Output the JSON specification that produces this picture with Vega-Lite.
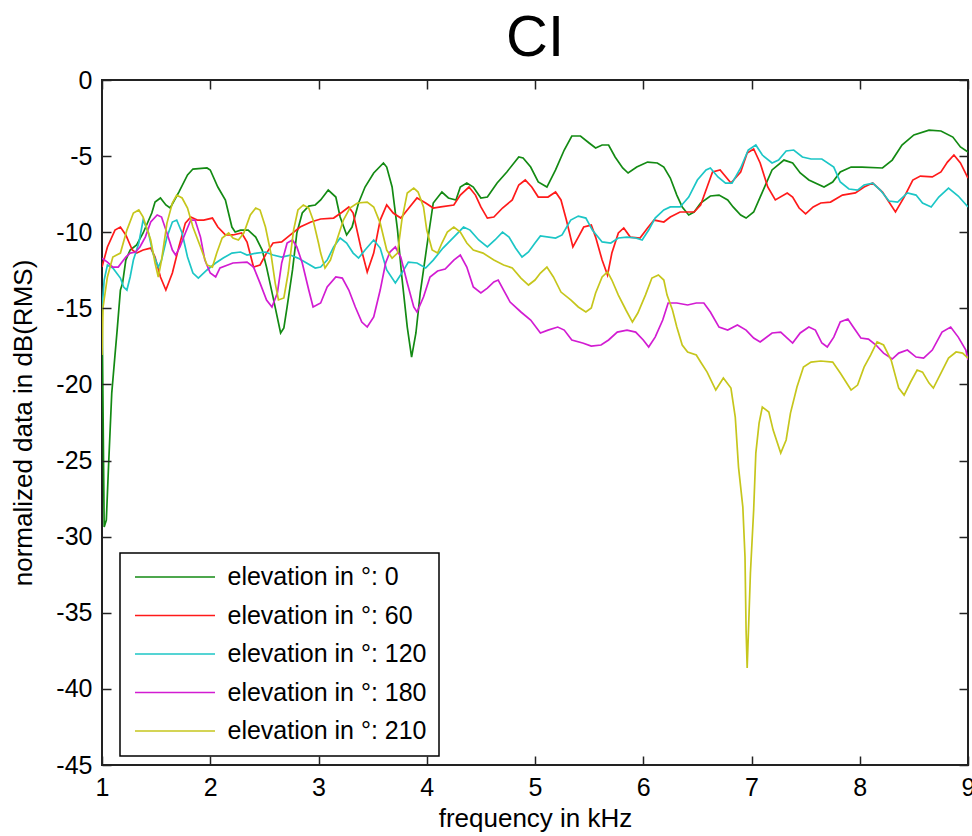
{
  "$schema": "https://vega.github.io/schema/vega-lite/v6.json",
  "width": 866,
  "height": 685,
  "autosize": {"type": "none"},
  "padding": {"left": 102, "top": 80, "right": 4, "bottom": 71},
  "background": "white",
  "title": {"text": "CI", "fontSize": 58, "font": "Liberation Sans", "fontWeight": "normal", "color": "#000", "offset": 0, "anchor": "middle"},
  "config": {
    "view": {"stroke": "#222", "strokeWidth": 2},
    "legend": {"strokeWidth": 1.5}
  },
  "datasets": {
    "curves": [
      {"e":"elevation in °: 0","f":1.00,"v":-14.45},{"e":"elevation in °: 0","f":1.02,"v":-29.37},{"e":"elevation in °: 0","f":1.04,"v":-28.91},{"e":"elevation in °: 0","f":1.06,"v":-25.43},{"e":"elevation in °: 0","f":1.09,"v":-20.57},{"e":"elevation in °: 0","f":1.12,"v":-18.07},{"e":"elevation in °: 0","f":1.14,"v":-16.43},{"e":"elevation in °: 0","f":1.17,"v":-13.80},{"e":"elevation in °: 0","f":1.19,"v":-13.34},{"e":"elevation in °: 0","f":1.22,"v":-11.83},{"e":"elevation in °: 0","f":1.26,"v":-11.17},{"e":"elevation in °: 0","f":1.32,"v":-10.84},{"e":"elevation in °: 0","f":1.38,"v":-10.05},{"e":"elevation in °: 0","f":1.46,"v":-8.74},{"e":"elevation in °: 0","f":1.49,"v":-8.02},{"e":"elevation in °: 0","f":1.54,"v":-7.75},{"e":"elevation in °: 0","f":1.59,"v":-8.21},{"e":"elevation in °: 0","f":1.63,"v":-8.41},{"e":"elevation in °: 0","f":1.71,"v":-7.36},{"e":"elevation in °: 0","f":1.79,"v":-6.24},{"e":"elevation in °: 0","f":1.84,"v":-5.85},{"e":"elevation in °: 0","f":1.97,"v":-5.78},{"e":"elevation in °: 0","f":2.00,"v":-5.91},{"e":"elevation in °: 0","f":2.07,"v":-7.03},{"e":"elevation in °: 0","f":2.14,"v":-7.88},{"e":"elevation in °: 0","f":2.20,"v":-9.66},{"e":"elevation in °: 0","f":2.23,"v":-9.99},{"e":"elevation in °: 0","f":2.28,"v":-9.86},{"e":"elevation in °: 0","f":2.35,"v":-9.86},{"e":"elevation in °: 0","f":2.42,"v":-10.32},{"e":"elevation in °: 0","f":2.48,"v":-11.17},{"e":"elevation in °: 0","f":2.52,"v":-12.29},{"e":"elevation in °: 0","f":2.58,"v":-14.26},{"e":"elevation in °: 0","f":2.65,"v":-16.62},{"e":"elevation in °: 0","f":2.68,"v":-16.29},{"e":"elevation in °: 0","f":2.71,"v":-14.91},{"e":"elevation in °: 0","f":2.76,"v":-12.48},{"e":"elevation in °: 0","f":2.80,"v":-10.05},{"e":"elevation in °: 0","f":2.85,"v":-8.74},{"e":"elevation in °: 0","f":2.91,"v":-8.28},{"e":"elevation in °: 0","f":2.97,"v":-8.21},{"e":"elevation in °: 0","f":3.02,"v":-7.88},{"e":"elevation in °: 0","f":3.09,"v":-7.23},{"e":"elevation in °: 0","f":3.16,"v":-7.69},{"e":"elevation in °: 0","f":3.20,"v":-9.00},{"e":"elevation in °: 0","f":3.26,"v":-10.18},{"e":"elevation in °: 0","f":3.31,"v":-9.66},{"e":"elevation in °: 0","f":3.37,"v":-8.08},{"e":"elevation in °: 0","f":3.43,"v":-7.03},{"e":"elevation in °: 0","f":3.51,"v":-6.11},{"e":"elevation in °: 0","f":3.60,"v":-5.45},{"e":"elevation in °: 0","f":3.63,"v":-5.72},{"e":"elevation in °: 0","f":3.68,"v":-7.03},{"e":"elevation in °: 0","f":3.73,"v":-9.86},{"e":"elevation in °: 0","f":3.77,"v":-12.94},{"e":"elevation in °: 0","f":3.82,"v":-16.23},{"e":"elevation in °: 0","f":3.86,"v":-18.20},{"e":"elevation in °: 0","f":3.90,"v":-16.62},{"e":"elevation in °: 0","f":3.94,"v":-13.99},{"e":"elevation in °: 0","f":4.00,"v":-10.97},{"e":"elevation in °: 0","f":4.06,"v":-8.08},{"e":"elevation in °: 0","f":4.14,"v":-7.36},{"e":"elevation in °: 0","f":4.20,"v":-7.75},{"e":"elevation in °: 0","f":4.27,"v":-7.88},{"e":"elevation in °: 0","f":4.31,"v":-7.03},{"e":"elevation in °: 0","f":4.37,"v":-6.77},{"e":"elevation in °: 0","f":4.43,"v":-7.03},{"e":"elevation in °: 0","f":4.50,"v":-7.75},{"e":"elevation in °: 0","f":4.56,"v":-7.69},{"e":"elevation in °: 0","f":4.65,"v":-6.77},{"e":"elevation in °: 0","f":4.74,"v":-6.04},{"e":"elevation in °: 0","f":4.85,"v":-5.06},{"e":"elevation in °: 0","f":4.89,"v":-5.12},{"e":"elevation in °: 0","f":4.96,"v":-5.72},{"e":"elevation in °: 0","f":5.03,"v":-6.70},{"e":"elevation in °: 0","f":5.11,"v":-7.03},{"e":"elevation in °: 0","f":5.19,"v":-5.91},{"e":"elevation in °: 0","f":5.27,"v":-4.60},{"e":"elevation in °: 0","f":5.34,"v":-3.68},{"e":"elevation in °: 0","f":5.42,"v":-3.68},{"e":"elevation in °: 0","f":5.50,"v":-4.14},{"e":"elevation in °: 0","f":5.56,"v":-4.47},{"e":"elevation in °: 0","f":5.62,"v":-4.27},{"e":"elevation in °: 0","f":5.68,"v":-4.27},{"e":"elevation in °: 0","f":5.74,"v":-5.06},{"e":"elevation in °: 0","f":5.81,"v":-5.78},{"e":"elevation in °: 0","f":5.86,"v":-6.11},{"e":"elevation in °: 0","f":5.94,"v":-5.72},{"e":"elevation in °: 0","f":6.04,"v":-5.39},{"e":"elevation in °: 0","f":6.13,"v":-5.45},{"e":"elevation in °: 0","f":6.19,"v":-5.72},{"e":"elevation in °: 0","f":6.25,"v":-6.44},{"e":"elevation in °: 0","f":6.31,"v":-7.56},{"e":"elevation in °: 0","f":6.36,"v":-8.34},{"e":"elevation in °: 0","f":6.42,"v":-8.87},{"e":"elevation in °: 0","f":6.47,"v":-8.67},{"e":"elevation in °: 0","f":6.53,"v":-8.08},{"e":"elevation in °: 0","f":6.62,"v":-7.62},{"e":"elevation in °: 0","f":6.70,"v":-7.56},{"e":"elevation in °: 0","f":6.78,"v":-7.88},{"e":"elevation in °: 0","f":6.83,"v":-8.34},{"e":"elevation in °: 0","f":6.90,"v":-8.87},{"e":"elevation in °: 0","f":6.95,"v":-9.07},{"e":"elevation in °: 0","f":7.02,"v":-8.67},{"e":"elevation in °: 0","f":7.08,"v":-7.69},{"e":"elevation in °: 0","f":7.19,"v":-5.91},{"e":"elevation in °: 0","f":7.30,"v":-5.26},{"e":"elevation in °: 0","f":7.38,"v":-5.45},{"e":"elevation in °: 0","f":7.45,"v":-6.11},{"e":"elevation in °: 0","f":7.53,"v":-6.57},{"e":"elevation in °: 0","f":7.67,"v":-7.03},{"e":"elevation in °: 0","f":7.75,"v":-6.70},{"e":"elevation in °: 0","f":7.82,"v":-6.04},{"e":"elevation in °: 0","f":7.92,"v":-5.72},{"e":"elevation in °: 0","f":8.02,"v":-5.72},{"e":"elevation in °: 0","f":8.21,"v":-5.78},{"e":"elevation in °: 0","f":8.30,"v":-5.26},{"e":"elevation in °: 0","f":8.39,"v":-4.27},{"e":"elevation in °: 0","f":8.50,"v":-3.61},{"e":"elevation in °: 0","f":8.64,"v":-3.29},{"e":"elevation in °: 0","f":8.75,"v":-3.35},{"e":"elevation in °: 0","f":8.86,"v":-3.75},{"e":"elevation in °: 0","f":8.93,"v":-4.40},{"e":"elevation in °: 0","f":9.00,"v":-4.73},
      {"e":"elevation in °: 60","f":1.00,"v":-12.29},{"e":"elevation in °: 60","f":1.05,"v":-10.97},{"e":"elevation in °: 60","f":1.12,"v":-9.86},{"e":"elevation in °: 60","f":1.17,"v":-9.66},{"e":"elevation in °: 60","f":1.22,"v":-10.18},{"e":"elevation in °: 60","f":1.28,"v":-11.17},{"e":"elevation in °: 60","f":1.32,"v":-11.37},{"e":"elevation in °: 60","f":1.38,"v":-11.17},{"e":"elevation in °: 60","f":1.45,"v":-11.04},{"e":"elevation in °: 60","f":1.49,"v":-11.63},{"e":"elevation in °: 60","f":1.54,"v":-12.94},{"e":"elevation in °: 60","f":1.59,"v":-13.80},{"e":"elevation in °: 60","f":1.65,"v":-12.68},{"e":"elevation in °: 60","f":1.71,"v":-10.97},{"e":"elevation in °: 60","f":1.77,"v":-9.40},{"e":"elevation in °: 60","f":1.82,"v":-9.00},{"e":"elevation in °: 60","f":1.88,"v":-9.20},{"e":"elevation in °: 60","f":1.94,"v":-9.20},{"e":"elevation in °: 60","f":2.02,"v":-9.07},{"e":"elevation in °: 60","f":2.07,"v":-9.66},{"e":"elevation in °: 60","f":2.14,"v":-10.18},{"e":"elevation in °: 60","f":2.21,"v":-10.18},{"e":"elevation in °: 60","f":2.29,"v":-10.05},{"e":"elevation in °: 60","f":2.34,"v":-10.64},{"e":"elevation in °: 60","f":2.40,"v":-12.29},{"e":"elevation in °: 60","f":2.46,"v":-12.15},{"e":"elevation in °: 60","f":2.52,"v":-11.37},{"e":"elevation in °: 60","f":2.58,"v":-10.71},{"e":"elevation in °: 60","f":2.66,"v":-10.64},{"e":"elevation in °: 60","f":2.74,"v":-10.18},{"e":"elevation in °: 60","f":2.83,"v":-9.66},{"e":"elevation in °: 60","f":2.93,"v":-9.33},{"e":"elevation in °: 60","f":3.02,"v":-9.13},{"e":"elevation in °: 60","f":3.14,"v":-9.07},{"e":"elevation in °: 60","f":3.22,"v":-8.67},{"e":"elevation in °: 60","f":3.28,"v":-8.34},{"e":"elevation in °: 60","f":3.32,"v":-8.74},{"e":"elevation in °: 60","f":3.39,"v":-10.97},{"e":"elevation in °: 60","f":3.45,"v":-12.61},{"e":"elevation in °: 60","f":3.51,"v":-11.37},{"e":"elevation in °: 60","f":3.57,"v":-9.20},{"e":"elevation in °: 60","f":3.63,"v":-8.21},{"e":"elevation in °: 60","f":3.69,"v":-8.74},{"e":"elevation in °: 60","f":3.76,"v":-9.07},{"e":"elevation in °: 60","f":3.82,"v":-8.54},{"e":"elevation in °: 60","f":3.91,"v":-7.75},{"e":"elevation in °: 60","f":3.99,"v":-8.08},{"e":"elevation in °: 60","f":4.06,"v":-8.41},{"e":"elevation in °: 60","f":4.13,"v":-8.34},{"e":"elevation in °: 60","f":4.25,"v":-8.21},{"e":"elevation in °: 60","f":4.31,"v":-7.56},{"e":"elevation in °: 60","f":4.39,"v":-7.03},{"e":"elevation in °: 60","f":4.45,"v":-7.56},{"e":"elevation in °: 60","f":4.50,"v":-8.34},{"e":"elevation in °: 60","f":4.56,"v":-9.07},{"e":"elevation in °: 60","f":4.62,"v":-9.00},{"e":"elevation in °: 60","f":4.70,"v":-8.41},{"e":"elevation in °: 60","f":4.79,"v":-7.88},{"e":"elevation in °: 60","f":4.85,"v":-6.90},{"e":"elevation in °: 60","f":4.91,"v":-6.57},{"e":"elevation in °: 60","f":4.97,"v":-7.03},{"e":"elevation in °: 60","f":5.03,"v":-7.69},{"e":"elevation in °: 60","f":5.12,"v":-7.69},{"e":"elevation in °: 60","f":5.19,"v":-7.36},{"e":"elevation in °: 60","f":5.24,"v":-7.88},{"e":"elevation in °: 60","f":5.29,"v":-9.20},{"e":"elevation in °: 60","f":5.35,"v":-10.97},{"e":"elevation in °: 60","f":5.40,"v":-10.32},{"e":"elevation in °: 60","f":5.45,"v":-9.66},{"e":"elevation in °: 60","f":5.52,"v":-9.53},{"e":"elevation in °: 60","f":5.56,"v":-10.32},{"e":"elevation in °: 60","f":5.62,"v":-11.83},{"e":"elevation in °: 60","f":5.67,"v":-12.81},{"e":"elevation in °: 60","f":5.71,"v":-11.37},{"e":"elevation in °: 60","f":5.77,"v":-10.05},{"e":"elevation in °: 60","f":5.82,"v":-9.72},{"e":"elevation in °: 60","f":5.88,"v":-10.32},{"e":"elevation in °: 60","f":5.97,"v":-10.38},{"e":"elevation in °: 60","f":6.04,"v":-9.72},{"e":"elevation in °: 60","f":6.10,"v":-9.20},{"e":"elevation in °: 60","f":6.19,"v":-9.33},{"e":"elevation in °: 60","f":6.25,"v":-9.00},{"e":"elevation in °: 60","f":6.34,"v":-8.67},{"e":"elevation in °: 60","f":6.47,"v":-8.67},{"e":"elevation in °: 60","f":6.53,"v":-8.21},{"e":"elevation in °: 60","f":6.59,"v":-7.03},{"e":"elevation in °: 60","f":6.64,"v":-6.04},{"e":"elevation in °: 60","f":6.71,"v":-5.91},{"e":"elevation in °: 60","f":6.81,"v":-6.77},{"e":"elevation in °: 60","f":6.90,"v":-6.04},{"e":"elevation in °: 60","f":6.96,"v":-4.80},{"e":"elevation in °: 60","f":7.02,"v":-4.53},{"e":"elevation in °: 60","f":7.08,"v":-5.45},{"e":"elevation in °: 60","f":7.15,"v":-7.03},{"e":"elevation in °: 60","f":7.22,"v":-7.88},{"e":"elevation in °: 60","f":7.33,"v":-7.42},{"e":"elevation in °: 60","f":7.38,"v":-7.69},{"e":"elevation in °: 60","f":7.44,"v":-8.41},{"e":"elevation in °: 60","f":7.50,"v":-8.80},{"e":"elevation in °: 60","f":7.57,"v":-8.34},{"e":"elevation in °: 60","f":7.64,"v":-8.08},{"e":"elevation in °: 60","f":7.73,"v":-8.02},{"e":"elevation in °: 60","f":7.84,"v":-7.56},{"e":"elevation in °: 60","f":7.96,"v":-7.42},{"e":"elevation in °: 60","f":8.04,"v":-7.03},{"e":"elevation in °: 60","f":8.12,"v":-6.77},{"e":"elevation in °: 60","f":8.21,"v":-7.36},{"e":"elevation in °: 60","f":8.27,"v":-8.02},{"e":"elevation in °: 60","f":8.33,"v":-8.67},{"e":"elevation in °: 60","f":8.41,"v":-7.69},{"e":"elevation in °: 60","f":8.49,"v":-6.57},{"e":"elevation in °: 60","f":8.56,"v":-6.31},{"e":"elevation in °: 60","f":8.67,"v":-6.37},{"e":"elevation in °: 60","f":8.75,"v":-6.04},{"e":"elevation in °: 60","f":8.81,"v":-5.39},{"e":"elevation in °: 60","f":8.87,"v":-4.93},{"e":"elevation in °: 60","f":8.93,"v":-5.45},{"e":"elevation in °: 60","f":9.00,"v":-6.44},
      {"e":"elevation in °: 120","f":1.00,"v":-15.11},{"e":"elevation in °: 120","f":1.02,"v":-13.14},{"e":"elevation in °: 120","f":1.05,"v":-12.15},{"e":"elevation in °: 120","f":1.10,"v":-12.35},{"e":"elevation in °: 120","f":1.17,"v":-13.01},{"e":"elevation in °: 120","f":1.20,"v":-13.60},{"e":"elevation in °: 120","f":1.23,"v":-13.80},{"e":"elevation in °: 120","f":1.26,"v":-12.94},{"e":"elevation in °: 120","f":1.29,"v":-11.83},{"e":"elevation in °: 120","f":1.34,"v":-10.71},{"e":"elevation in °: 120","f":1.38,"v":-9.20},{"e":"elevation in °: 120","f":1.43,"v":-10.05},{"e":"elevation in °: 120","f":1.47,"v":-11.37},{"e":"elevation in °: 120","f":1.52,"v":-12.29},{"e":"elevation in °: 120","f":1.55,"v":-11.83},{"e":"elevation in °: 120","f":1.60,"v":-10.32},{"e":"elevation in °: 120","f":1.65,"v":-9.33},{"e":"elevation in °: 120","f":1.69,"v":-9.20},{"e":"elevation in °: 120","f":1.74,"v":-10.05},{"e":"elevation in °: 120","f":1.79,"v":-11.63},{"e":"elevation in °: 120","f":1.84,"v":-12.68},{"e":"elevation in °: 120","f":1.89,"v":-13.01},{"e":"elevation in °: 120","f":1.97,"v":-12.48},{"e":"elevation in °: 120","f":2.05,"v":-12.02},{"e":"elevation in °: 120","f":2.12,"v":-11.70},{"e":"elevation in °: 120","f":2.20,"v":-11.37},{"e":"elevation in °: 120","f":2.28,"v":-11.30},{"e":"elevation in °: 120","f":2.34,"v":-11.50},{"e":"elevation in °: 120","f":2.43,"v":-11.37},{"e":"elevation in °: 120","f":2.51,"v":-11.30},{"e":"elevation in °: 120","f":2.58,"v":-11.50},{"e":"elevation in °: 120","f":2.66,"v":-11.63},{"e":"elevation in °: 120","f":2.74,"v":-11.50},{"e":"elevation in °: 120","f":2.81,"v":-11.70},{"e":"elevation in °: 120","f":2.89,"v":-12.02},{"e":"elevation in °: 120","f":2.97,"v":-12.35},{"e":"elevation in °: 120","f":3.02,"v":-12.29},{"e":"elevation in °: 120","f":3.08,"v":-11.83},{"e":"elevation in °: 120","f":3.14,"v":-10.97},{"e":"elevation in °: 120","f":3.20,"v":-10.38},{"e":"elevation in °: 120","f":3.26,"v":-10.71},{"e":"elevation in °: 120","f":3.32,"v":-11.37},{"e":"elevation in °: 120","f":3.37,"v":-11.70},{"e":"elevation in °: 120","f":3.43,"v":-11.17},{"e":"elevation in °: 120","f":3.51,"v":-10.51},{"e":"elevation in °: 120","f":3.57,"v":-11.04},{"e":"elevation in °: 120","f":3.63,"v":-12.48},{"e":"elevation in °: 120","f":3.71,"v":-13.34},{"e":"elevation in °: 120","f":3.77,"v":-12.68},{"e":"elevation in °: 120","f":3.83,"v":-11.96},{"e":"elevation in °: 120","f":3.91,"v":-12.02},{"e":"elevation in °: 120","f":3.99,"v":-12.35},{"e":"elevation in °: 120","f":4.06,"v":-11.83},{"e":"elevation in °: 120","f":4.15,"v":-11.04},{"e":"elevation in °: 120","f":4.25,"v":-10.32},{"e":"elevation in °: 120","f":4.34,"v":-9.66},{"e":"elevation in °: 120","f":4.40,"v":-9.86},{"e":"elevation in °: 120","f":4.48,"v":-10.51},{"e":"elevation in °: 120","f":4.56,"v":-10.97},{"e":"elevation in °: 120","f":4.63,"v":-10.51},{"e":"elevation in °: 120","f":4.70,"v":-9.99},{"e":"elevation in °: 120","f":4.76,"v":-10.32},{"e":"elevation in °: 120","f":4.82,"v":-11.04},{"e":"elevation in °: 120","f":4.88,"v":-11.63},{"e":"elevation in °: 120","f":4.94,"v":-11.30},{"e":"elevation in °: 120","f":5.00,"v":-10.71},{"e":"elevation in °: 120","f":5.05,"v":-10.25},{"e":"elevation in °: 120","f":5.19,"v":-10.38},{"e":"elevation in °: 120","f":5.25,"v":-10.18},{"e":"elevation in °: 120","f":5.33,"v":-9.20},{"e":"elevation in °: 120","f":5.40,"v":-8.94},{"e":"elevation in °: 120","f":5.47,"v":-9.07},{"e":"elevation in °: 120","f":5.53,"v":-9.86},{"e":"elevation in °: 120","f":5.62,"v":-10.64},{"e":"elevation in °: 120","f":5.70,"v":-10.71},{"e":"elevation in °: 120","f":5.77,"v":-10.38},{"e":"elevation in °: 120","f":5.85,"v":-10.32},{"e":"elevation in °: 120","f":5.93,"v":-10.38},{"e":"elevation in °: 120","f":5.99,"v":-10.51},{"e":"elevation in °: 120","f":6.05,"v":-9.86},{"e":"elevation in °: 120","f":6.11,"v":-9.07},{"e":"elevation in °: 120","f":6.19,"v":-8.54},{"e":"elevation in °: 120","f":6.25,"v":-8.34},{"e":"elevation in °: 120","f":6.34,"v":-8.34},{"e":"elevation in °: 120","f":6.42,"v":-7.69},{"e":"elevation in °: 120","f":6.50,"v":-6.57},{"e":"elevation in °: 120","f":6.58,"v":-5.91},{"e":"elevation in °: 120","f":6.62,"v":-5.78},{"e":"elevation in °: 120","f":6.69,"v":-6.37},{"e":"elevation in °: 120","f":6.76,"v":-6.77},{"e":"elevation in °: 120","f":6.82,"v":-6.77},{"e":"elevation in °: 120","f":6.90,"v":-5.78},{"e":"elevation in °: 120","f":6.97,"v":-4.60},{"e":"elevation in °: 120","f":7.04,"v":-4.27},{"e":"elevation in °: 120","f":7.10,"v":-4.93},{"e":"elevation in °: 120","f":7.19,"v":-5.45},{"e":"elevation in °: 120","f":7.25,"v":-5.26},{"e":"elevation in °: 120","f":7.32,"v":-4.66},{"e":"elevation in °: 120","f":7.39,"v":-4.60},{"e":"elevation in °: 120","f":7.47,"v":-5.06},{"e":"elevation in °: 120","f":7.55,"v":-5.19},{"e":"elevation in °: 120","f":7.65,"v":-5.19},{"e":"elevation in °: 120","f":7.76,"v":-5.72},{"e":"elevation in °: 120","f":7.82,"v":-6.70},{"e":"elevation in °: 120","f":7.90,"v":-7.16},{"e":"elevation in °: 120","f":7.98,"v":-7.23},{"e":"elevation in °: 120","f":8.04,"v":-6.90},{"e":"elevation in °: 120","f":8.12,"v":-6.77},{"e":"elevation in °: 120","f":8.19,"v":-7.23},{"e":"elevation in °: 120","f":8.27,"v":-7.95},{"e":"elevation in °: 120","f":8.35,"v":-8.02},{"e":"elevation in °: 120","f":8.44,"v":-7.42},{"e":"elevation in °: 120","f":8.52,"v":-7.56},{"e":"elevation in °: 120","f":8.58,"v":-8.08},{"e":"elevation in °: 120","f":8.66,"v":-8.34},{"e":"elevation in °: 120","f":8.73,"v":-7.69},{"e":"elevation in °: 120","f":8.82,"v":-7.10},{"e":"elevation in °: 120","f":8.91,"v":-7.62},{"e":"elevation in °: 120","f":9.00,"v":-8.34},
      {"e":"elevation in °: 180","f":1.00,"v":-11.70},{"e":"elevation in °: 180","f":1.05,"v":-11.96},{"e":"elevation in °: 180","f":1.10,"v":-12.29},{"e":"elevation in °: 180","f":1.15,"v":-12.29},{"e":"elevation in °: 180","f":1.22,"v":-11.63},{"e":"elevation in °: 180","f":1.26,"v":-11.37},{"e":"elevation in °: 180","f":1.31,"v":-11.30},{"e":"elevation in °: 180","f":1.35,"v":-10.97},{"e":"elevation in °: 180","f":1.40,"v":-10.32},{"e":"elevation in °: 180","f":1.45,"v":-9.33},{"e":"elevation in °: 180","f":1.51,"v":-8.87},{"e":"elevation in °: 180","f":1.55,"v":-9.00},{"e":"elevation in °: 180","f":1.60,"v":-10.05},{"e":"elevation in °: 180","f":1.65,"v":-11.17},{"e":"elevation in °: 180","f":1.68,"v":-11.50},{"e":"elevation in °: 180","f":1.72,"v":-10.97},{"e":"elevation in °: 180","f":1.77,"v":-10.05},{"e":"elevation in °: 180","f":1.82,"v":-9.20},{"e":"elevation in °: 180","f":1.86,"v":-9.20},{"e":"elevation in °: 180","f":1.91,"v":-10.32},{"e":"elevation in °: 180","f":1.95,"v":-11.83},{"e":"elevation in °: 180","f":2.00,"v":-12.68},{"e":"elevation in °: 180","f":2.05,"v":-12.94},{"e":"elevation in °: 180","f":2.09,"v":-12.35},{"e":"elevation in °: 180","f":2.21,"v":-12.02},{"e":"elevation in °: 180","f":2.34,"v":-11.96},{"e":"elevation in °: 180","f":2.40,"v":-12.29},{"e":"elevation in °: 180","f":2.46,"v":-13.34},{"e":"elevation in °: 180","f":2.52,"v":-14.45},{"e":"elevation in °: 180","f":2.57,"v":-14.91},{"e":"elevation in °: 180","f":2.62,"v":-13.99},{"e":"elevation in °: 180","f":2.66,"v":-12.02},{"e":"elevation in °: 180","f":2.71,"v":-10.71},{"e":"elevation in °: 180","f":2.76,"v":-10.51},{"e":"elevation in °: 180","f":2.80,"v":-10.97},{"e":"elevation in °: 180","f":2.85,"v":-12.02},{"e":"elevation in °: 180","f":2.91,"v":-13.80},{"e":"elevation in °: 180","f":2.95,"v":-14.91},{"e":"elevation in °: 180","f":3.02,"v":-14.65},{"e":"elevation in °: 180","f":3.08,"v":-13.60},{"e":"elevation in °: 180","f":3.16,"v":-12.94},{"e":"elevation in °: 180","f":3.22,"v":-13.01},{"e":"elevation in °: 180","f":3.28,"v":-13.80},{"e":"elevation in °: 180","f":3.34,"v":-14.91},{"e":"elevation in °: 180","f":3.40,"v":-15.90},{"e":"elevation in °: 180","f":3.45,"v":-16.23},{"e":"elevation in °: 180","f":3.51,"v":-15.57},{"e":"elevation in °: 180","f":3.57,"v":-13.80},{"e":"elevation in °: 180","f":3.62,"v":-12.02},{"e":"elevation in °: 180","f":3.66,"v":-11.30},{"e":"elevation in °: 180","f":3.71,"v":-10.97},{"e":"elevation in °: 180","f":3.76,"v":-11.63},{"e":"elevation in °: 180","f":3.82,"v":-13.34},{"e":"elevation in °: 180","f":3.88,"v":-14.91},{"e":"elevation in °: 180","f":3.91,"v":-15.24},{"e":"elevation in °: 180","f":3.97,"v":-14.26},{"e":"elevation in °: 180","f":4.03,"v":-12.94},{"e":"elevation in °: 180","f":4.10,"v":-12.55},{"e":"elevation in °: 180","f":4.17,"v":-12.42},{"e":"elevation in °: 180","f":4.25,"v":-11.83},{"e":"elevation in °: 180","f":4.31,"v":-11.50},{"e":"elevation in °: 180","f":4.37,"v":-12.29},{"e":"elevation in °: 180","f":4.43,"v":-13.60},{"e":"elevation in °: 180","f":4.50,"v":-13.99},{"e":"elevation in °: 180","f":4.56,"v":-13.67},{"e":"elevation in °: 180","f":4.62,"v":-13.27},{"e":"elevation in °: 180","f":4.66,"v":-13.14},{"e":"elevation in °: 180","f":4.71,"v":-13.80},{"e":"elevation in °: 180","f":4.77,"v":-14.59},{"e":"elevation in °: 180","f":4.87,"v":-15.24},{"e":"elevation in °: 180","f":4.96,"v":-15.77},{"e":"elevation in °: 180","f":5.05,"v":-16.62},{"e":"elevation in °: 180","f":5.12,"v":-16.43},{"e":"elevation in °: 180","f":5.21,"v":-16.23},{"e":"elevation in °: 180","f":5.27,"v":-16.43},{"e":"elevation in °: 180","f":5.34,"v":-17.08},{"e":"elevation in °: 180","f":5.44,"v":-17.28},{"e":"elevation in °: 180","f":5.52,"v":-17.48},{"e":"elevation in °: 180","f":5.61,"v":-17.41},{"e":"elevation in °: 180","f":5.68,"v":-17.08},{"e":"elevation in °: 180","f":5.76,"v":-16.56},{"e":"elevation in °: 180","f":5.85,"v":-16.43},{"e":"elevation in °: 180","f":5.93,"v":-16.56},{"e":"elevation in °: 180","f":6.00,"v":-17.08},{"e":"elevation in °: 180","f":6.05,"v":-17.54},{"e":"elevation in °: 180","f":6.11,"v":-16.89},{"e":"elevation in °: 180","f":6.18,"v":-15.77},{"e":"elevation in °: 180","f":6.23,"v":-14.65},{"e":"elevation in °: 180","f":6.31,"v":-14.65},{"e":"elevation in °: 180","f":6.41,"v":-14.78},{"e":"elevation in °: 180","f":6.49,"v":-14.65},{"e":"elevation in °: 180","f":6.56,"v":-14.65},{"e":"elevation in °: 180","f":6.62,"v":-15.24},{"e":"elevation in °: 180","f":6.70,"v":-16.23},{"e":"elevation in °: 180","f":6.78,"v":-16.43},{"e":"elevation in °: 180","f":6.87,"v":-16.10},{"e":"elevation in °: 180","f":6.95,"v":-16.43},{"e":"elevation in °: 180","f":7.02,"v":-16.95},{"e":"elevation in °: 180","f":7.08,"v":-17.21},{"e":"elevation in °: 180","f":7.19,"v":-16.62},{"e":"elevation in °: 180","f":7.27,"v":-16.56},{"e":"elevation in °: 180","f":7.33,"v":-16.95},{"e":"elevation in °: 180","f":7.38,"v":-17.28},{"e":"elevation in °: 180","f":7.45,"v":-16.62},{"e":"elevation in °: 180","f":7.53,"v":-16.23},{"e":"elevation in °: 180","f":7.59,"v":-16.43},{"e":"elevation in °: 180","f":7.65,"v":-17.28},{"e":"elevation in °: 180","f":7.70,"v":-17.54},{"e":"elevation in °: 180","f":7.76,"v":-16.89},{"e":"elevation in °: 180","f":7.82,"v":-15.90},{"e":"elevation in °: 180","f":7.89,"v":-15.70},{"e":"elevation in °: 180","f":7.94,"v":-16.23},{"e":"elevation in °: 180","f":8.01,"v":-16.95},{"e":"elevation in °: 180","f":8.08,"v":-17.02},{"e":"elevation in °: 180","f":8.15,"v":-17.41},{"e":"elevation in °: 180","f":8.22,"v":-17.94},{"e":"elevation in °: 180","f":8.30,"v":-18.33},{"e":"elevation in °: 180","f":8.36,"v":-17.94},{"e":"elevation in °: 180","f":8.44,"v":-17.74},{"e":"elevation in °: 180","f":8.52,"v":-18.20},{"e":"elevation in °: 180","f":8.59,"v":-18.27},{"e":"elevation in °: 180","f":8.67,"v":-17.74},{"e":"elevation in °: 180","f":8.76,"v":-16.56},{"e":"elevation in °: 180","f":8.84,"v":-16.23},{"e":"elevation in °: 180","f":8.91,"v":-16.89},{"e":"elevation in °: 180","f":8.98,"v":-17.74},{"e":"elevation in °: 180","f":9.00,"v":-18.40},
      {"e":"elevation in °: 210","f":1.00,"v":-18.07},{"e":"elevation in °: 210","f":1.01,"v":-14.91},{"e":"elevation in °: 210","f":1.05,"v":-12.94},{"e":"elevation in °: 210","f":1.10,"v":-11.63},{"e":"elevation in °: 210","f":1.17,"v":-11.37},{"e":"elevation in °: 210","f":1.23,"v":-9.86},{"e":"elevation in °: 210","f":1.29,"v":-8.74},{"e":"elevation in °: 210","f":1.34,"v":-8.54},{"e":"elevation in °: 210","f":1.38,"v":-9.00},{"e":"elevation in °: 210","f":1.45,"v":-10.51},{"e":"elevation in °: 210","f":1.49,"v":-12.02},{"e":"elevation in °: 210","f":1.52,"v":-12.94},{"e":"elevation in °: 210","f":1.55,"v":-11.83},{"e":"elevation in °: 210","f":1.60,"v":-9.40},{"e":"elevation in °: 210","f":1.65,"v":-8.08},{"e":"elevation in °: 210","f":1.69,"v":-7.56},{"e":"elevation in °: 210","f":1.74,"v":-7.75},{"e":"elevation in °: 210","f":1.79,"v":-8.41},{"e":"elevation in °: 210","f":1.84,"v":-9.66},{"e":"elevation in °: 210","f":1.91,"v":-10.97},{"e":"elevation in °: 210","f":1.97,"v":-12.15},{"e":"elevation in °: 210","f":2.02,"v":-12.29},{"e":"elevation in °: 210","f":2.06,"v":-11.37},{"e":"elevation in °: 210","f":2.11,"v":-10.38},{"e":"elevation in °: 210","f":2.17,"v":-10.05},{"e":"elevation in °: 210","f":2.21,"v":-10.38},{"e":"elevation in °: 210","f":2.26,"v":-10.51},{"e":"elevation in °: 210","f":2.31,"v":-10.05},{"e":"elevation in °: 210","f":2.37,"v":-8.87},{"e":"elevation in °: 210","f":2.42,"v":-8.41},{"e":"elevation in °: 210","f":2.46,"v":-8.54},{"e":"elevation in °: 210","f":2.51,"v":-9.66},{"e":"elevation in °: 210","f":2.56,"v":-11.37},{"e":"elevation in °: 210","f":2.60,"v":-13.34},{"e":"elevation in °: 210","f":2.63,"v":-14.45},{"e":"elevation in °: 210","f":2.68,"v":-14.32},{"e":"elevation in °: 210","f":2.72,"v":-12.68},{"e":"elevation in °: 210","f":2.77,"v":-9.86},{"e":"elevation in °: 210","f":2.81,"v":-8.54},{"e":"elevation in °: 210","f":2.86,"v":-8.21},{"e":"elevation in °: 210","f":2.91,"v":-8.41},{"e":"elevation in °: 210","f":2.95,"v":-9.20},{"e":"elevation in °: 210","f":3.00,"v":-10.71},{"e":"elevation in °: 210","f":3.02,"v":-11.37},{"e":"elevation in °: 210","f":3.06,"v":-12.35},{"e":"elevation in °: 210","f":3.11,"v":-11.83},{"e":"elevation in °: 210","f":3.17,"v":-10.51},{"e":"elevation in °: 210","f":3.23,"v":-9.20},{"e":"elevation in °: 210","f":3.29,"v":-8.41},{"e":"elevation in °: 210","f":3.36,"v":-8.08},{"e":"elevation in °: 210","f":3.45,"v":-8.02},{"e":"elevation in °: 210","f":3.51,"v":-8.34},{"e":"elevation in °: 210","f":3.57,"v":-9.40},{"e":"elevation in °: 210","f":3.63,"v":-11.17},{"e":"elevation in °: 210","f":3.68,"v":-11.70},{"e":"elevation in °: 210","f":3.73,"v":-11.37},{"e":"elevation in °: 210","f":3.77,"v":-9.20},{"e":"elevation in °: 210","f":3.82,"v":-7.42},{"e":"elevation in °: 210","f":3.88,"v":-7.10},{"e":"elevation in °: 210","f":3.92,"v":-7.36},{"e":"elevation in °: 210","f":3.97,"v":-8.34},{"e":"elevation in °: 210","f":4.00,"v":-9.86},{"e":"elevation in °: 210","f":4.05,"v":-11.17},{"e":"elevation in °: 210","f":4.10,"v":-11.37},{"e":"elevation in °: 210","f":4.14,"v":-10.71},{"e":"elevation in °: 210","f":4.19,"v":-9.99},{"e":"elevation in °: 210","f":4.25,"v":-9.66},{"e":"elevation in °: 210","f":4.31,"v":-9.99},{"e":"elevation in °: 210","f":4.37,"v":-10.71},{"e":"elevation in °: 210","f":4.43,"v":-11.17},{"e":"elevation in °: 210","f":4.52,"v":-11.37},{"e":"elevation in °: 210","f":4.62,"v":-11.83},{"e":"elevation in °: 210","f":4.71,"v":-12.15},{"e":"elevation in °: 210","f":4.79,"v":-12.35},{"e":"elevation in °: 210","f":4.87,"v":-13.01},{"e":"elevation in °: 210","f":4.94,"v":-13.47},{"e":"elevation in °: 210","f":5.00,"v":-13.14},{"e":"elevation in °: 210","f":5.05,"v":-12.68},{"e":"elevation in °: 210","f":5.11,"v":-12.29},{"e":"elevation in °: 210","f":5.17,"v":-12.94},{"e":"elevation in °: 210","f":5.24,"v":-13.93},{"e":"elevation in °: 210","f":5.33,"v":-14.45},{"e":"elevation in °: 210","f":5.40,"v":-14.91},{"e":"elevation in °: 210","f":5.47,"v":-15.24},{"e":"elevation in °: 210","f":5.52,"v":-14.98},{"e":"elevation in °: 210","f":5.56,"v":-13.99},{"e":"elevation in °: 210","f":5.62,"v":-12.94},{"e":"elevation in °: 210","f":5.67,"v":-12.61},{"e":"elevation in °: 210","f":5.71,"v":-13.14},{"e":"elevation in °: 210","f":5.77,"v":-14.13},{"e":"elevation in °: 210","f":5.84,"v":-15.11},{"e":"elevation in °: 210","f":5.90,"v":-15.90},{"e":"elevation in °: 210","f":5.95,"v":-15.31},{"e":"elevation in °: 210","f":6.02,"v":-14.13},{"e":"elevation in °: 210","f":6.08,"v":-13.01},{"e":"elevation in °: 210","f":6.14,"v":-12.81},{"e":"elevation in °: 210","f":6.19,"v":-13.14},{"e":"elevation in °: 210","f":6.22,"v":-14.13},{"e":"elevation in °: 210","f":6.27,"v":-15.11},{"e":"elevation in °: 210","f":6.31,"v":-16.23},{"e":"elevation in °: 210","f":6.36,"v":-17.41},{"e":"elevation in °: 210","f":6.41,"v":-17.87},{"e":"elevation in °: 210","f":6.49,"v":-18.07},{"e":"elevation in °: 210","f":6.53,"v":-18.53},{"e":"elevation in °: 210","f":6.59,"v":-19.19},{"e":"elevation in °: 210","f":6.67,"v":-20.37},{"e":"elevation in °: 210","f":6.74,"v":-19.58},{"e":"elevation in °: 210","f":6.81,"v":-20.24},{"e":"elevation in °: 210","f":6.85,"v":-22.14},{"e":"elevation in °: 210","f":6.88,"v":-25.43},{"e":"elevation in °: 210","f":6.92,"v":-28.06},{"e":"elevation in °: 210","f":6.94,"v":-31.34},{"e":"elevation in °: 210","f":6.95,"v":-36.14},{"e":"elevation in °: 210","f":6.96,"v":-38.63},{"e":"elevation in °: 210","f":6.97,"v":-36.60},{"e":"elevation in °: 210","f":6.99,"v":-32.39},{"e":"elevation in °: 210","f":7.02,"v":-28.25},{"e":"elevation in °: 210","f":7.04,"v":-24.51},{"e":"elevation in °: 210","f":7.07,"v":-22.54},{"e":"elevation in °: 210","f":7.10,"v":-21.48},{"e":"elevation in °: 210","f":7.16,"v":-21.81},{"e":"elevation in °: 210","f":7.20,"v":-23.00},{"e":"elevation in °: 210","f":7.27,"v":-24.51},{"e":"elevation in °: 210","f":7.32,"v":-23.65},{"e":"elevation in °: 210","f":7.36,"v":-21.88},{"e":"elevation in °: 210","f":7.42,"v":-20.17},{"e":"elevation in °: 210","f":7.48,"v":-18.86},{"e":"elevation in °: 210","f":7.55,"v":-18.53},{"e":"elevation in °: 210","f":7.64,"v":-18.46},{"e":"elevation in °: 210","f":7.75,"v":-18.53},{"e":"elevation in °: 210","f":7.82,"v":-19.25},{"e":"elevation in °: 210","f":7.92,"v":-20.37},{"e":"elevation in °: 210","f":7.98,"v":-20.04},{"e":"elevation in °: 210","f":8.04,"v":-18.86},{"e":"elevation in °: 210","f":8.10,"v":-18.07},{"e":"elevation in °: 210","f":8.16,"v":-17.21},{"e":"elevation in °: 210","f":8.22,"v":-17.41},{"e":"elevation in °: 210","f":8.29,"v":-18.40},{"e":"elevation in °: 210","f":8.36,"v":-20.24},{"e":"elevation in °: 210","f":8.41,"v":-20.70},{"e":"elevation in °: 210","f":8.47,"v":-19.84},{"e":"elevation in °: 210","f":8.53,"v":-19.05},{"e":"elevation in °: 210","f":8.58,"v":-19.19},{"e":"elevation in °: 210","f":8.64,"v":-19.91},{"e":"elevation in °: 210","f":8.68,"v":-20.24},{"e":"elevation in °: 210","f":8.75,"v":-19.25},{"e":"elevation in °: 210","f":8.82,"v":-18.27},{"e":"elevation in °: 210","f":8.89,"v":-17.87},{"e":"elevation in °: 210","f":8.95,"v":-17.94},{"e":"elevation in °: 210","f":9.00,"v":-18.27}
    ]
  },
  "data": {"name": "curves"},
  "layer": [
    {
      "mark": {"type": "line", "strokeWidth": 1.7, "clip": true},
      "encoding": {
        "x": {"field": "f", "type": "quantitative",
          "scale": {"domain": [1, 9], "nice": false, "zero": false},
          "axis": {"orient": "bottom", "values": [1,2,3,4,5,6,7,8,9], "title": "frequency in kHz", "grid": false, "domain": false, "zindex": 1,
            "offset": -9, "tickSize": 9, "tickColor": "#222", "tickWidth": 1.5, "labelFont": "Liberation Sans", "labelFontSize": 25, "labelColor": "#000",
            "labelPadding": 10, "labelFlush": false, "labelOverlap": false,
            "titleFont": "Liberation Sans", "titleFontSize": 26, "titleFontWeight": "normal", "titleColor": "#000", "titlePadding": 5}},
        "y": {"field": "v", "type": "quantitative",
          "scale": {"domain": [-45, 0], "nice": false, "zero": false},
          "axis": {"orient": "left", "values": [-45,-40,-35,-30,-25,-20,-15,-10,-5,0], "title": "normalized data in dB(RMS)", "grid": false, "domain": false, "zindex": 1,
            "offset": -9, "tickSize": 9, "tickColor": "#222", "tickWidth": 1.5, "labelFont": "Liberation Sans", "labelFontSize": 25, "labelColor": "#000",
            "labelPadding": 10, "labelFlush": false, "labelOverlap": false,
            "labelExpr": "datum.value < 0 ? '-' + abs(datum.value) : '' + datum.value",
            "titleFont": "Liberation Sans", "titleFontSize": 26, "titleFontWeight": "normal", "titleColor": "#000", "titlePadding": 19}},
        "color": {"field": "e", "type": "nominal",
          "scale": {"domain": ["elevation in °: 0", "elevation in °: 60", "elevation in °: 120", "elevation in °: 180", "elevation in °: 210"],
                    "range": ["#138a13", "#ff1a1a", "#1cc6c6", "#d21cd2", "#c6c61c"]},
          "legend": {"title": null, "orient": "none", "legendX": 18, "legendY": 473,
            "symbolType": "stroke", "symbolSize": 6400, "symbolStrokeWidth": 1.7,
            "labelFont": "Liberation Sans", "labelFontSize": 25, "labelColor": "#000", "labelLimit": 400,
            "strokeColor": "#000", "fillColor": "#fff", "padding": 11.5, "clipHeight": 25, "rowPadding": 12.5,
            "symbolOffset": 2.5, "labelOffset": 11.5}}
      }
    },
    {
      "mark": {"type": "point", "opacity": 0, "size": 1},
      "encoding": {
        "x": {"field": "f", "type": "quantitative",
          "axis": {"orient": "top", "values": [1,2,3,4,5,6,7,8,9], "title": null, "labels": false, "grid": false, "domain": false, "zindex": 1,
            "offset": -9, "tickSize": 9, "tickColor": "#222", "tickWidth": 1.5}},
        "y": {"field": "v", "type": "quantitative",
          "axis": {"orient": "right", "values": [-45,-40,-35,-30,-25,-20,-15,-10,-5,0], "title": null, "labels": false, "grid": false, "domain": false, "zindex": 1,
            "offset": -9, "tickSize": 9, "tickColor": "#222", "tickWidth": 1.5}}
      }
    }
  ],
  "resolve": {"axis": {"x": "independent", "y": "independent"}}
}
